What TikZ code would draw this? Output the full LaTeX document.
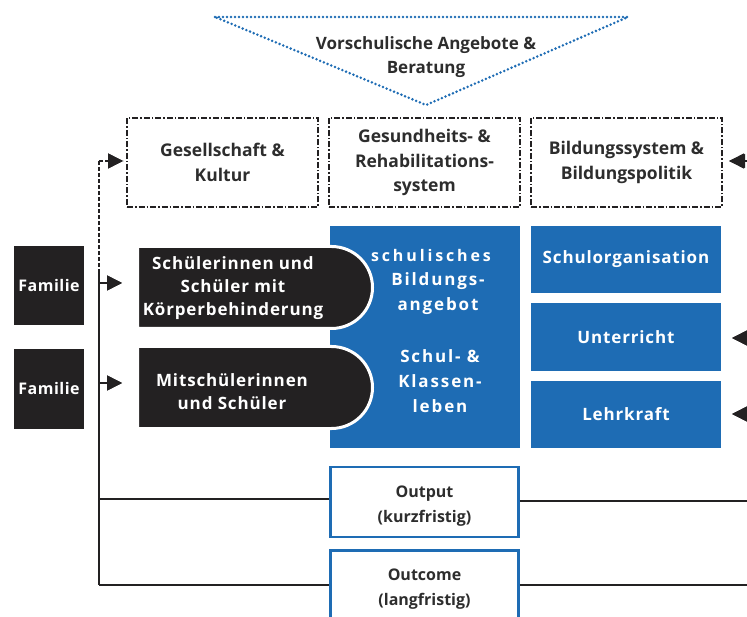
\documentclass[tikz,border=0pt]{standalone}
\usepackage{fontspec}
\setmainfont{Open Sans}
\usetikzlibrary{shapes.misc,arrows.meta}
\definecolor{bl}{RGB}{30,108,180}
\definecolor{blk}{RGB}{35,33,34}
\definecolor{txt}{RGB}{45,45,45}
\tikzset{
 ctx/.style={draw=blk, line width=1.4pt, dash pattern=on 6pt off 2pt on 1.5pt off 2pt,
   minimum width=191pt, minimum height=89pt, align=center, text=txt, inner sep=0pt,
   font=\bfseries\fontsize{17.5}{24.5}\selectfont},
 fam/.style={fill=blk, text=white, minimum width=70pt, minimum height=79pt, inner sep=0pt,
   font=\bfseries\fontsize{16}{20}\selectfont\addfontfeature{LetterSpace=3}},
 pupil/.style={rounded rectangle, rounded rectangle left arc=none, fill=blk, draw=white,
   line width=3pt, minimum width=235pt, minimum height=82pt, inner sep=0pt},
 wtext/.style={text=white, align=center, inner sep=0pt,
   font=\bfseries\fontsize{17}{23}\selectfont\addfontfeature{LetterSpace=5}},
 btext/.style={text=white, align=center, inner sep=0pt,
   font=\bfseries\fontsize{17}{25}\selectfont\addfontfeature{LetterSpace=11}},
 bbox/.style={fill=bl, minimum width=190pt, inner sep=0pt},
 res/.style={draw=bl, line width=2.5pt, fill=white, minimum width=188pt, inner sep=0pt,
   align=center, text=txt, font=\bfseries\fontsize{16}{25}\selectfont},
 arr/.style={line width=1.6pt, draw=blk, -{Triangle[length=15pt,width=15pt]}},
 ln/.style={line width=1.6pt, draw=blk},
 head/.style={fill=blk},
}
\begin{document}
\begin{tikzpicture}[x=1pt,y=-1pt]
\useasboundingbox (0,0) rectangle (747,617);
% triangle
\draw[bl, line width=2.8pt, line cap=round, dash pattern=on 0pt off 4pt]
  (215,17) -- (628,17) -- (426,105) -- cycle;
\node[align=center, text=txt, inner sep=0pt, font=\bfseries\fontsize{17}{24}\selectfont] (pre) at (426,57)
  {Vorschulische Angebote \&\\Beratung};
% context boxes
\node[ctx] (ges) at (222.5,162.5) {Gesellschaft \&\\Kultur};
\node[ctx] (gsr) at (424.5,162.5) {Gesundheits- \&\\Rehabilitations-\\system};
\node[ctx] (bil) at (626.5,162.5) {Bildungssystem \&\\Bildungspolitik};
% big blue box
\node[bbox, minimum height=222pt] (sch) at (424.5,337) {};
\node[btext, font=\bfseries\fontsize{16}{25}\selectfont\addfontfeature{LetterSpace=18}] (scht1) at (431,256) {schulisches};
\node[btext] (scht) at (438,294) {Bildungs-\\angebot};
\node[btext] (klt) at (440,381) {Schul- \&\\Klassen-\\leben};
% right blue boxes
\node[bbox, minimum height=67pt] (org) at (626,259.5) {};
\node[wtext] at (org) {Schulorganisation};
\node[bbox, minimum height=68pt] (unt) at (626,337) {};
\node[wtext] at (unt) {Unterricht};
\node[bbox, minimum height=67pt] (lk) at (626,414.5) {};
\node[wtext] at (lk) {Lehrkraft};
% families
\node[fam] (f1) at (49,286) {Familie};
\node[fam] (f2) at (49,389) {Familie};
% pupils
\node[pupil] (p1) at (255,287.5) {};
\node[wtext] (p1t) at (233,288) {Schülerinnen und\\Schüler mit\\Körperbehinderung};
\node[pupil] (p2) at (255,387.5) {};
\node[wtext] (p2t) at (232,392) {Mitschülerinnen\\und Schüler};
% results
\node[res, minimum height=70pt] (out) at (424.5,502) {};
\node[res, draw=none, fill=none] at (424.5,506) {Output\\(kurzfristig)};
\node[res, minimum height=75pt] (oc) at (424.5,588) {};
\node[res, draw=none, fill=none] at (424.5,589) {Outcome\\(langfristig)};
% spine
\coordinate (s0) at (99,161);
\coordinate (s1) at (99,273);
\coordinate (s2) at (99,585);
\coordinate (so) at (99,499);
\coordinate (a0) at (123,161);
\coordinate (a1) at (122,283);
\coordinate (a2) at (122,383);
\draw[ln, dash pattern=on 4pt off 2pt] (s0) -- (s1);
\draw[ln] (s1) -- (s2);
\draw[ln, dash pattern=on 4pt off 2pt] (s0) -- (a0);
\draw[arr] (s0 -| 105,0) -- (a0);
\draw[arr] (s1 |- a1) -- (a1);
\draw[arr] (s1 |- a2) -- (a2);
\fill[head] (a0) -- ++(-15,-7.5) -- ++(0,15) -- cycle;
\fill[head] (a1) -- ++(-15,-7.5) -- ++(0,15) -- cycle;
\fill[head] (a2) -- ++(-15,-7.5) -- ++(0,15) -- cycle;
\draw[ln] (so) -- (so -| out.west);
\draw[ln] (s2) -- (s2 -| oc.west);
% right side
\coordinate (r0) at (752,161);
\coordinate (r1) at (752,338);
\coordinate (r2) at (752,414);
\coordinate (t0) at (729,161);
\coordinate (t1) at (732,338);
\coordinate (t2) at (732,414);
\draw[arr] (r0) -- (t0);
\draw[arr] (r1) -- (t1);
\draw[arr] (r2) -- (t2);
\fill[head] (t0) -- ++(16,-7) -- ++(0,14) -- cycle;
\fill[head] (t1) -- ++(16,-8) -- ++(0,16) -- cycle;
\fill[head] (t2) -- ++(16,-8) -- ++(0,16) -- cycle;
\coordinate (ro) at (747,501);
\draw[ln] (out.east |- ro) -- (ro);
\draw[ln] (oc.east |- s2) -- (747,585);
\end{tikzpicture}
\end{document}
